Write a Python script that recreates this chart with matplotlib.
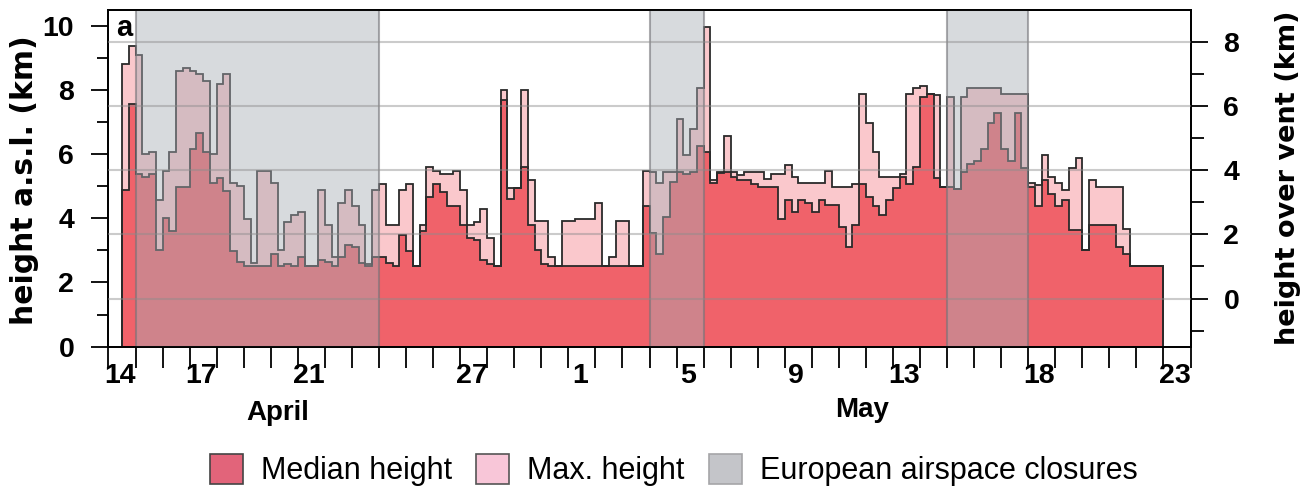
import numpy as np
import matplotlib
matplotlib.use("Agg")
import matplotlib.pyplot as plt
from matplotlib.patches import Patch
from matplotlib.transforms import blended_transform_factory

# Plume heights (km a.s.l.), 6-hourly, starting at noon on 14 April
median_height = [
    4.87, 7.56, 5.39, 5.28, 5.39, 3.00, 4.00, 3.60, 4.97, 4.97,
    6.17, 6.66, 6.06, 5.10, 5.26, 4.85, 2.98, 2.64, 2.50, 2.50,
    2.50, 2.50, 2.88, 2.50, 2.57, 2.50, 2.80, 2.50, 2.50, 2.70,
    2.64, 2.50, 2.80, 3.18, 3.09, 2.60, 2.50, 2.78, 2.78, 2.60,
    2.50, 3.49, 2.98, 2.50, 3.60, 4.66, 5.08, 4.82, 4.38, 4.38,
    3.78, 3.39, 3.32, 2.69, 2.59, 2.50, 7.69, 4.59, 4.95, 5.60,
    3.78, 3.00, 2.59, 2.50, 2.50, 2.50, 2.50, 2.50, 2.50, 2.50,
    2.50, 2.50, 2.50, 2.50, 2.50, 2.50, 2.50, 4.38, 3.55, 2.88,
    4.04, 5.13, 5.44, 5.37, 5.44, 6.25, 6.06, 5.10, 5.42, 5.44,
    5.28, 5.18, 5.18, 5.08, 4.97, 4.97, 4.97, 3.99, 4.56, 4.20,
    4.56, 4.49, 4.20, 4.56, 4.40, 4.40, 3.73, 3.09, 3.78, 5.08,
    4.66, 4.38, 4.09, 4.56, 4.94, 5.28, 5.08, 5.60, 7.77, 7.86,
    5.25, 4.97, 4.97, 4.90, 5.44, 5.70, 5.77, 6.16, 6.97, 7.27,
    6.16, 5.77, 7.27, 5.56, 4.97, 4.38, 5.18, 4.77, 4.38, 4.56,
    3.63, 3.63, 3.00, 3.78, 3.78, 3.78, 3.78, 3.11, 2.88, 2.50,
    2.50, 2.50, 2.50, 2.50,
]
max_height = [
    8.80, 9.38, 9.09, 6.00, 6.06, 4.58, 5.46, 6.06, 8.58, 8.67,
    8.58, 8.48, 8.28, 6.00, 8.19, 8.48, 5.09, 4.99, 3.99, 2.60,
    5.46, 5.46, 5.09, 3.00, 3.89, 4.09, 4.20, 2.52, 2.52, 4.89,
    3.78, 2.78, 4.49, 4.89, 4.38, 3.78, 2.59, 4.89, 5.08, 3.78,
    3.78, 4.89, 5.08, 2.50, 3.78, 5.60, 5.47, 5.39, 5.39, 5.47,
    4.89, 3.78, 3.89, 4.28, 3.39, 2.50, 7.98, 4.95, 4.95, 7.98,
    5.18, 3.90, 3.90, 2.78, 2.50, 3.90, 3.90, 3.99, 3.99, 3.99,
    4.48, 2.50, 2.78, 3.90, 3.90, 2.50, 2.50, 5.47, 5.44, 5.10,
    5.44, 5.44, 7.08, 5.98, 6.79, 8.06, 9.95, 5.18, 5.44, 6.56,
    5.44, 5.34, 5.44, 5.44, 5.44, 5.23, 5.39, 5.39, 5.67, 5.28,
    5.10, 5.10, 5.10, 5.10, 5.47, 4.97, 4.97, 4.97, 5.08, 7.88,
    6.97, 6.06, 5.28, 5.28, 5.28, 5.39, 7.88, 8.06, 8.13, 7.86,
    7.85, 4.97, 7.77, 4.90, 7.77, 8.06, 8.06, 8.06, 8.06, 8.06,
    7.88, 7.88, 7.88, 7.88, 5.10, 5.03, 5.98, 5.28, 5.10, 4.89,
    5.56, 5.88, 3.00, 5.18, 4.97, 4.97, 4.97, 4.97, 3.68, 2.50,
    2.50, 2.50, 2.50, 2.50,
]
series_start_day = 0.5      # days after 14 April 00:00
step_days = 0.25

# European airspace closures (days after 14 April 00:00)
closures = [(1, 10), (20, 22), (31, 34)]

# Date tick labels and their day offsets from 14 April
date_labels = ["14", "17", "21", "27", "1", "5", "9", "13", "18", "23"]
date_offsets = [0, 3, 7, 13, 17, 21, 25, 29, 34, 39]
months = [("April", 6.25, 0.157), ("May", 27.86, 0.163)]

vent_altitude = 1.5   # km, offset between the two height scales

RED = "#f0626a"
PINK = "#fac8cc"
GREY = (0.66, 0.68, 0.71, 0.45)
LINE = "#2a2a2a"
SANS = "Liberation Sans"

fig = plt.figure(figsize=(13.16, 4.90), dpi=100)
W, H = 1316, 490
ax = fig.add_axes([108.5 / W, 1 - 346.7 / H, (1190.5 - 108.5) / W, (346.7 - 10.5) / H])

edges = series_start_day + step_days * np.arange(len(median_height) + 1)
ax.stairs(max_height, edges, baseline=0, fill=True, color=PINK, lw=0, zorder=1)
ax.stairs(median_height, edges, baseline=0, fill=True, color=RED, lw=0, zorder=2)
ax.stairs(max_height, edges, baseline=0, fill=False, color=LINE, lw=1.3, zorder=3)
ax.stairs(median_height, edges, baseline=0, fill=False, color=LINE, lw=1.3, zorder=3)

for a, b in closures:
    ax.axvspan(a, b, facecolor=GREY, edgecolor=(0.45, 0.45, 0.47, 0.6), lw=1.5, zorder=4)

ax.set_xlim(0, 40)
ax.set_ylim(0, 10.47)

for s in ax.spines.values():
    s.set_linewidth(1.3)
    s.set_color("black")

# x axis: a tick at each day boundary, labels at mid-day
ax.set_xticks(np.arange(0, 41))
ax.set_xticklabels([])
ax.tick_params(axis="x", which="major", length=15, width=1.3, direction="out")
ax.set_xticks([d + 0.42 for d in date_offsets], date_labels, minor=True)
ax.tick_params(axis="x", which="minor", length=0, pad=11.5)
for lab in ax.get_xticklabels(minor=True):
    lab.set_fontfamily(SANS)
    lab.set_fontweight("bold")
    lab.set_fontsize(20.5)

# left y axis
ax.set_yticks(np.arange(0, 11, 2))
ax.set_yticks(np.arange(1, 11, 2), minor=True)
ax.tick_params(axis="y", which="major", length=12.2, width=1.3, pad=12.5)
ax.tick_params(axis="y", which="minor", length=8, width=1.3)
for lab in ax.get_yticklabels():
    lab.set_fontfamily(SANS)
    lab.set_fontweight("bold")
    lab.set_fontsize(20.5)

# right y axis: height over the vent
ax2 = ax.twinx()
ax2.set_ylim(0 - vent_altitude, 10.47 - vent_altitude)
ax2.set_yticks(np.arange(0, 9, 2))
ax2.set_yticks(np.arange(-1, 9, 2), minor=True)
ax2.tick_params(axis="y", which="major", length=12.2, width=1.3, pad=11.5)
ax2.tick_params(axis="y", which="minor", length=9.4, width=1.3)
for lab in ax2.get_yticklabels():
    lab.set_fontfamily(SANS)
    lab.set_fontweight("bold")
    lab.set_fontsize(20.5)
for s in ax2.spines.values():
    s.set_linewidth(1.3)
ax2.yaxis.grid(True, which="major", color="#8c8c8c", alpha=0.45, lw=1.5)
ax2.set_axisbelow(False)

fig.text(25 / W, 0.632, "height a.s.l. (km)", rotation=90, ha="center", va="center",
         fontsize=21.5, fontweight="bold", family="DejaVu Sans")
fig.text(1288 / W, 0.637, "height over vent (km)", rotation=90, ha="center", va="center",
         fontsize=19.5, fontweight="bold", family="DejaVu Sans")

ax.text(0.0075, 0.923, "a", transform=ax.transAxes, fontsize=21, fontweight="bold",
        family=SANS, va="baseline", ha="left", zorder=6)

trans = blended_transform_factory(ax.transData, fig.transFigure)
for name, xd, yf in months:
    ax.text(xd, yf, name, transform=trans, ha="center", va="center",
            fontsize=20, fontweight="bold", family=SANS)

handles = [
    Patch(facecolor="#e2647a", edgecolor="#444444", lw=1.2),
    Patch(facecolor="#f8c6d8", edgecolor="#555555", lw=1.2),
    Patch(facecolor="#c4c5c9", edgecolor="#a5a5a8", lw=1.2),
]
fig.legend(handles, ["Median height", "Max. height", "European airspace closures"],
           loc="center", bbox_to_anchor=(0.512, 0.041), ncol=3, frameon=False,
           prop={"family": SANS, "size": 22}, handlelength=1.08, handleheight=1.18,
           handletextpad=0.59, columnspacing=0.8, borderaxespad=0, borderpad=0)

fig.savefig("out.png", dpi=100)
